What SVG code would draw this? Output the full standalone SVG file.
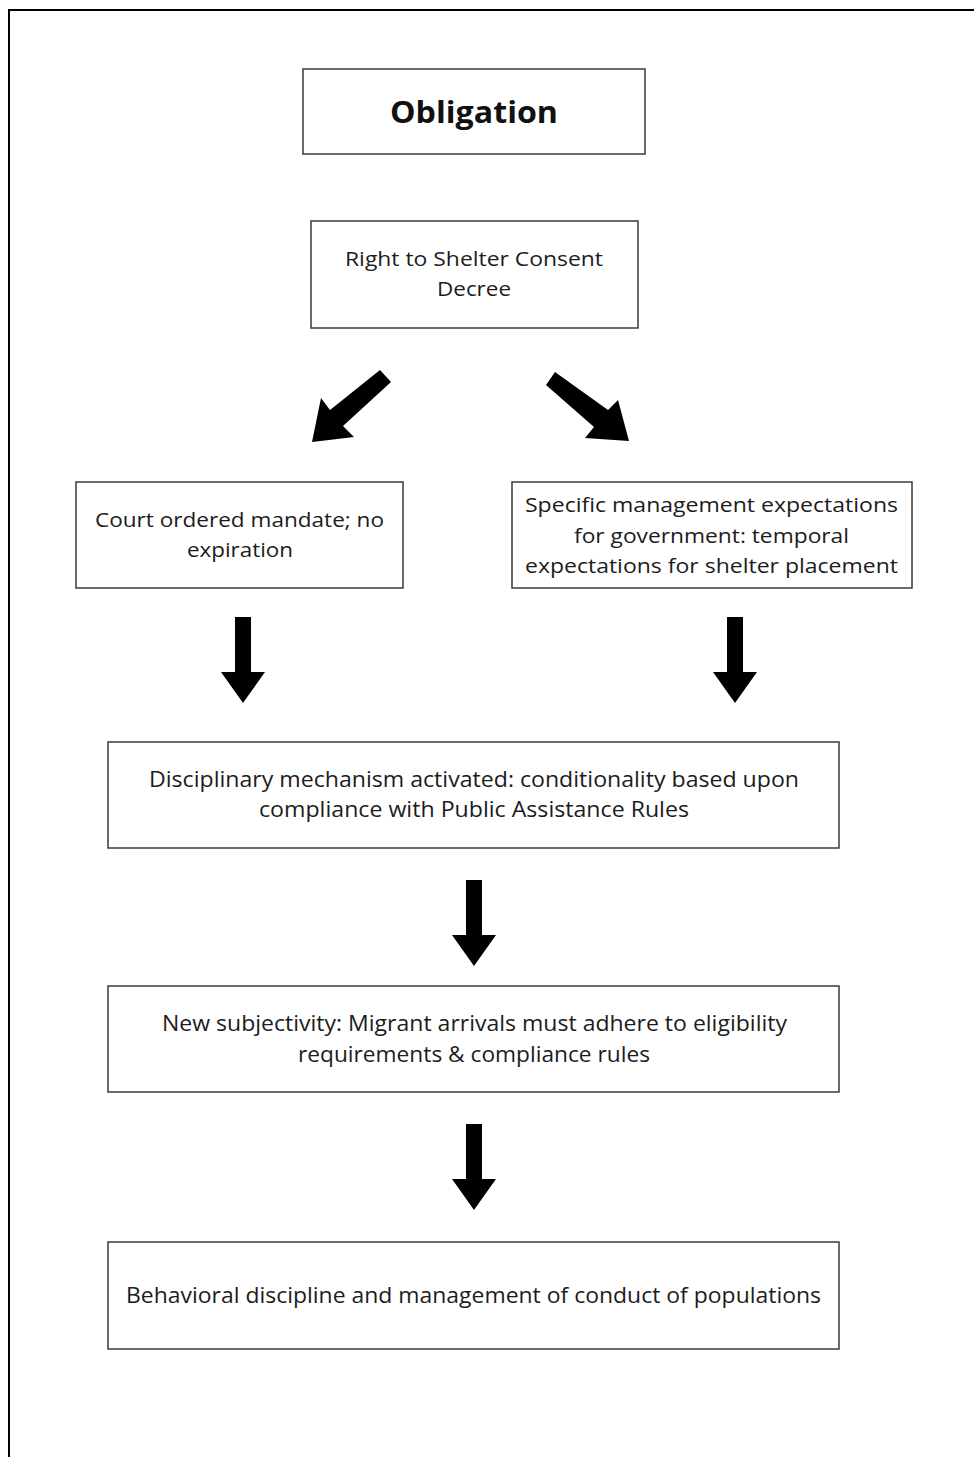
<svg xmlns="http://www.w3.org/2000/svg" xmlns:xlink="http://www.w3.org/1999/xlink" width="974" height="1457" viewBox="0 0 974 1457">
<style>
.box{fill:#ffffff;stroke:#3a3a3a;stroke-width:1.5}
.t{font-family:"Open Sans","Liberation Sans",sans-serif;font-size:20px;fill:#1c1c1c;text-anchor:middle}
.c{font-family:"Open Sans","Liberation Sans",sans-serif;font-size:21px;fill:#1c1c1c;text-anchor:middle}
.b{font-family:"Open Sans","Liberation Sans",sans-serif;font-size:31px;font-weight:700;fill:#111;text-anchor:middle}
.arr{fill:#000}
.frame{fill:none;stroke:#000;stroke-width:2}
</style>
<defs>
<path id="down" d="M-8,0 H8 V55 H22 L0,86 L-22,55 H-8 Z"/>
</defs>
<rect width="974" height="1457" fill="#ffffff"/>
<path class="frame" d="M9,1457 V10 H974"/>

<g id="obligation">
<rect class="box" x="303" y="69" width="342" height="85"/>
<text class="b" x="474" y="123" textLength="168" lengthAdjust="spacingAndGlyphs">Obligation</text>
</g>

<g id="consent-decree">
<rect class="box" x="311" y="221" width="327" height="107"/>
<text class="t" x="474" y="266" textLength="258" lengthAdjust="spacingAndGlyphs">Right to Shelter Consent</text>
<text class="t" x="474" y="296" textLength="74" lengthAdjust="spacingAndGlyphs">Decree</text>
</g>

<g id="court-mandate">
<rect class="box" x="76" y="482" width="327" height="106"/>
<text class="t" x="239.5" y="527" textLength="289" lengthAdjust="spacingAndGlyphs">Court ordered mandate; no</text>
<text class="t" x="240" y="557" textLength="106" lengthAdjust="spacingAndGlyphs">expiration</text>
</g>

<g id="management-expectations">
<rect class="box" x="512" y="482" width="400" height="106"/>
<text class="t" x="711.5" y="512" textLength="373" lengthAdjust="spacingAndGlyphs">Specific management expectations</text>
<text class="t" x="711.5" y="543" textLength="275" lengthAdjust="spacingAndGlyphs">for government: temporal</text>
<text class="t" x="711.5" y="573" textLength="373" lengthAdjust="spacingAndGlyphs">expectations for shelter placement</text>
</g>

<g id="disciplinary-mechanism">
<rect class="box" x="108" y="742" width="731" height="106"/>
<text class="c" x="474" y="787" textLength="650" lengthAdjust="spacingAndGlyphs">Disciplinary mechanism activated: conditionality based upon</text>
<text class="c" x="474" y="817" textLength="430" lengthAdjust="spacingAndGlyphs">compliance with Public Assistance Rules</text>
</g>

<g id="new-subjectivity">
<rect class="box" x="108" y="986" width="731" height="106"/>
<text class="c" x="474.5" y="1031" textLength="625" lengthAdjust="spacingAndGlyphs">New subjectivity: Migrant arrivals must adhere to eligibility</text>
<text class="c" x="474" y="1062" textLength="352" lengthAdjust="spacingAndGlyphs">requirements &amp; compliance rules</text>
</g>

<g id="behavioral-discipline">
<rect class="box" x="108" y="1242" width="731" height="107"/>
<text class="c" x="473.5" y="1303" textLength="695" lengthAdjust="spacingAndGlyphs">Behavioral discipline and management of conduct of populations</text>
</g>

<g id="connectors">
<polygon class="arr" points="380,370 391,382 343,426 354,437 312,442 321,398 330,410"/>
<polygon class="arr" points="555,372 608,410 618,400 629,441 585,438 594,427 546,385"/>
<use xlink:href="#down" href="#down" class="arr" transform="translate(243,617)"/>
<use xlink:href="#down" href="#down" class="arr" transform="translate(735,617)"/>
<use xlink:href="#down" href="#down" class="arr" transform="translate(474,880)"/>
<use xlink:href="#down" href="#down" class="arr" transform="translate(474,1124)"/>
</g>
</svg>
